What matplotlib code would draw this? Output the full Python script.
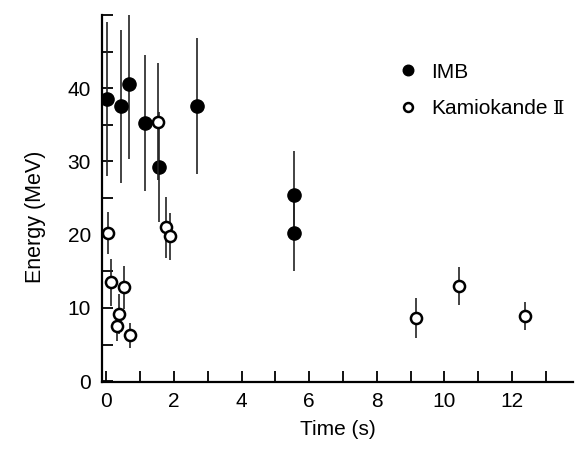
import matplotlib
matplotlib.use("Agg")
import matplotlib.pyplot as plt
from matplotlib.ticker import MultipleLocator

# IMB events (filled)
imb_t = [0.03, 0.44, 0.68, 1.13, 1.57, 2.69, 5.56, 5.56]
imb_e = [38.5, 37.5, 40.5, 35.2, 29.3, 37.6, 25.4, 20.2]
imb_err = [10.5, 10.5, 10.2, 9.3, 7.5, 9.3, 6.0, 5.2]

# Kamiokande II events (open)
kam_t = [0.04, 0.14, 0.32, 0.36, 0.51, 0.71, 1.54, 1.75, 1.89, 9.17, 10.42, 12.40]
kam_e = [20.2, 13.5, 7.5, 9.2, 12.8, 6.3, 35.4, 21.0, 19.8, 8.6, 13.0, 8.9]
kam_err = [2.9, 3.2, 2.0, 2.7, 2.9, 1.7, 8.0, 4.2, 3.2, 2.7, 2.6, 1.9]

x_ticks_major = [0, 2, 4, 6, 8, 10, 12]
y_ticks_major = [0, 10, 20, 30, 40]

plt.rcParams['font.family'] = ['Liberation Sans', 'DejaVu Sans']
FS = 15

fig = plt.figure(figsize=(5.78, 4.51), dpi=100)
ax = fig.add_axes([0.1765, 0.153, 0.8145, 0.814])

ax.errorbar(imb_t, imb_e, yerr=imb_err, fmt='o', color='black', ecolor='#222222',
            elinewidth=1.2, markersize=9.5, capsize=0, label='IMB', zorder=3)
ax.errorbar(kam_t, kam_e, yerr=kam_err, fmt='o', color='black', ecolor='#222222',
            elinewidth=1.2, markersize=8, markerfacecolor='white',
            markeredgewidth=1.8, capsize=0, label='Kamiokande', zorder=4)

ax.set_xlim(-0.13, 13.8)
ax.set_ylim(-0.1, 50)
ax.set_xticks(x_ticks_major)
ax.set_yticks(y_ticks_major)
ax.xaxis.set_minor_locator(MultipleLocator(1))
ax.yaxis.set_minor_locator(MultipleLocator(5))
ax.tick_params(axis='both', which='both', direction='in', length=8, width=1.3,
               labelsize=FS)
ax.tick_params(axis='x', which='both', pad=7)
ax.tick_params(axis='y', which='both', pad=8)

for s in ['top', 'right']:
    ax.spines[s].set_visible(False)
for s in ['left', 'bottom']:
    ax.spines[s].set_linewidth(1.6)

ax.set_xlabel('Time (s)', fontsize=FS, labelpad=7)
ax.set_ylabel('Energy (MeV)', fontsize=15.5)
ax.yaxis.set_label_coords(-0.12, 0.45)

handles, labels = ax.get_legend_handles_labels()
marker_handles = [h[0] for h in handles]
leg = ax.legend(marker_handles, labels, loc='upper left',
                bbox_to_anchor=(0.674, 0.884),
                bbox_transform=fig.transFigure, frameon=False, fontsize=FS,
                markerscale=0.8, handlelength=0.8, handletextpad=0.7,
                labelspacing=0.85, borderpad=0)

# Roman numeral II after "Kamiokande" in the legend
fig.canvas.draw()
renderer = fig.canvas.get_renderer()
t = leg.get_texts()[1]
bb = t.get_window_extent(renderer)
inv = fig.transFigure.inverted()
x0, y0 = inv.transform((bb.x1 + 5, (bb.y0 + bb.y1) / 2))
fig.text(x0, y0, 'Ⅱ', family='DejaVu Serif', fontsize=FS - 1,
         va='center', ha='left')

fig.savefig('out.png', dpi=100)
